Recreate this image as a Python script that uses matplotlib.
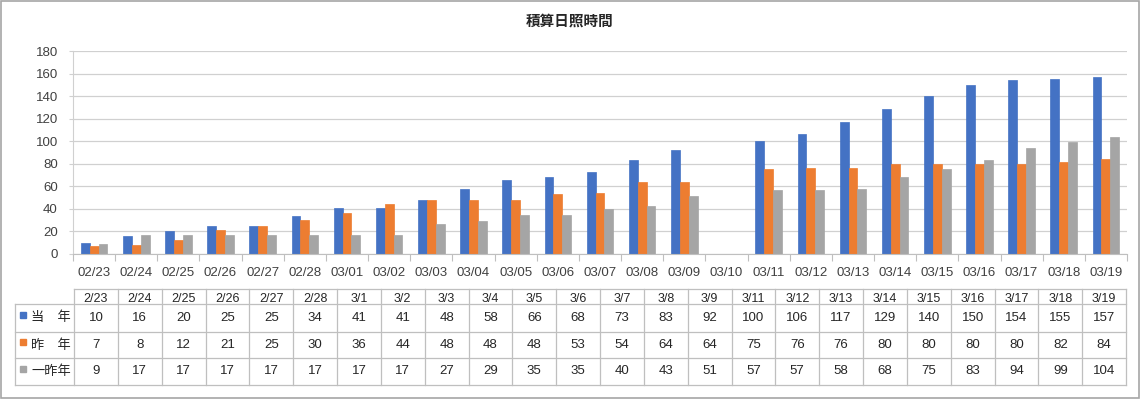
import numpy as np
import matplotlib
matplotlib.use("Agg")
import matplotlib.pyplot as plt
from matplotlib.patches import Rectangle

plt.rcParams['font.family'] = ['Liberation Sans', 'Noto Sans CJK JP', 'DejaVu Sans']

# ---- data ----
title = "積算日照時間"
chart_categories = ['02/23', '02/24', '02/25', '02/26', '02/27', '02/28', '03/01', '03/02',
                    '03/03', '03/04', '03/05', '03/06', '03/07', '03/08', '03/09', '03/10',
                    '03/11', '03/12', '03/13', '03/14', '03/15', '03/16', '03/17', '03/18', '03/19']
table_dates = ['2/23', '2/24', '2/25', '2/26', '2/27', '2/28', '3/1', '3/2', '3/3', '3/4',
               '3/5', '3/6', '3/7', '3/8', '3/9', '3/11', '3/12', '3/13', '3/14', '3/15',
               '3/16', '3/17', '3/18', '3/19']
series_names = ['当\u3000年', '昨\u3000年', '一昨年']
this_year = [10, 16, 20, 25, 25, 34, 41, 41, 48, 58, 66, 68, 73, 83, 92,
             100, 106, 117, 129, 140, 150, 154, 155, 157]
last_year = [7, 8, 12, 21, 25, 30, 36, 44, 48, 48, 48, 53, 54, 64, 64,
             75, 76, 76, 80, 80, 80, 80, 82, 84]
two_years_ago = [9, 17, 17, 17, 17, 17, 17, 17, 27, 29, 35, 35, 40, 43, 51,
                 57, 57, 58, 68, 75, 83, 94, 99, 104]
series_values = [this_year, last_year, two_years_ago]
colors = ['#4472C4', '#ED7D31', '#A5A5A5']

# ---- figure ----
W, H = 1141, 400
fig = plt.figure(figsize=(W / 100, H / 100), dpi=100)

def fx(x):
    return x / W

def fy(y):
    return 1 - y / H

ax_left, ax_right, ax_top, ax_bottom = 73, 1127, 51, 254
ax = fig.add_axes([fx(ax_left), fy(ax_bottom), fx(ax_right - ax_left), (ax_bottom - ax_top) / H])

def to_chart_key(d):
    m, dd = d.split('/')
    return f"{int(m):02d}/{int(dd):02d}"

lookup_keys = [to_chart_key(d) for d in table_dates]
x = np.arange(len(chart_categories))
bw = 0.21
for i, (vals, col) in enumerate(zip(series_values, colors)):
    mapping = dict(zip(lookup_keys, vals))
    y = np.array([mapping.get(c, np.nan) for c in chart_categories], dtype=float)
    ax.bar(x + (i - 1) * bw, y, width=bw, color=col, edgecolor=col, linewidth=0.5, zorder=3)

ax.set_xlim(-0.5, len(chart_categories) - 0.5)
ax.set_ylim(0, 180)
ax.set_yticks(np.arange(0, 181, 20))
ax.set_xticks(x)
ax.set_xticklabels(chart_categories)
ax.set_xticks(np.arange(-0.5, len(chart_categories), 1), minor=True)
ax.tick_params(axis='x', which='major', length=0, pad=9, labelsize=9.5, colors='#404040')
ax.tick_params(axis='x', which='minor', length=5, width=0.8, color='#BFBFBF')
ax.tick_params(axis='y', length=3, width=0.8, color='#D0D0D0', pad=8, labelsize=9.5, labelcolor='#404040')
ax.grid(axis='y', color='#D0D0D0', linewidth=0.9, zorder=0)
for s in ['top', 'right']:
    ax.spines[s].set_visible(False)
ax.spines['bottom'].set_color('#BFBFBF')
ax.spines['left'].set_color('#D0D0D0')
ax.spines['bottom'].set_zorder(4)

fig.text(fx(570), fy(22), title, ha='center', va='center', fontsize=10.5,
         fontweight='bold', color='#262626')

# ---- data table drawn on overlay axes in pixel coords ----
ov = fig.add_axes([0, 0, 1, 1])
ov.set_xlim(0, W)
ov.set_ylim(H, 0)
ov.axis('off')

line_c = '#BFBFBF'
t_left, t_right = 74, 1126
lab_left = 15
rows_y = [289, 304, 332, 358, 385]
ncol = len(table_dates)
cw = (t_right - t_left) / ncol
# horizontal lines
ov.plot([t_left, t_right], [rows_y[0]] * 2, color=line_c, lw=0.9)
for yy in rows_y[1:]:
    ov.plot([lab_left, t_right], [yy] * 2, color=line_c, lw=0.9)
# vertical lines
for j in range(ncol + 1):
    xx = t_left + j * cw
    ov.plot([xx, xx], [rows_y[0], rows_y[-1]], color=line_c, lw=0.9)
ov.plot([lab_left, lab_left], [rows_y[1], rows_y[-1]], color=line_c, lw=0.9)

txt_c = '#262626'
for j, d in enumerate(table_dates):
    ov.text(t_left + (j + 0.5) * cw, (rows_y[0] + rows_y[1]) / 2 + 0.5, d, ha='center',
            va='center_baseline', fontsize=9, color=txt_c)
for r, (name, vals, col) in enumerate(zip(series_names, series_values, colors)):
    yc = (rows_y[r + 1] + rows_y[r + 2]) / 2
    ov.add_patch(Rectangle((20, yc - 6), 6, 6, color=col))
    ov.text(31, yc, name, ha='left', va='center', fontsize=9.5, color=txt_c,
            family=['Noto Sans CJK JP', 'DejaVu Sans'])
    for j, v in enumerate(vals):
        ov.text(t_left + (j + 0.5) * cw, yc, str(v), ha='center', va='center',
                fontsize=9.5, color=txt_c)

# outer border
ov.add_patch(Rectangle((1, 1), W - 3, H - 3, fill=False, edgecolor='#A6A6A6', lw=1.2))

fig.savefig('out.png', dpi=100)
